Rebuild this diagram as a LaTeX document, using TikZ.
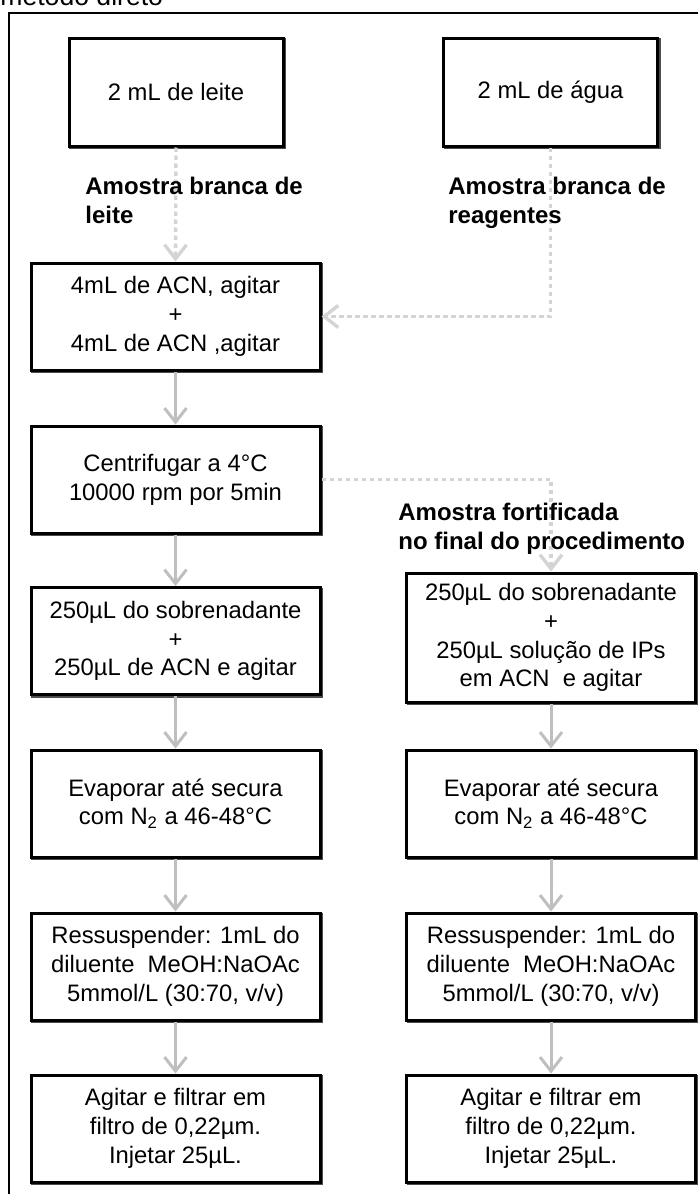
\documentclass[tikz,border=0pt]{standalone}
\usepackage{fontspec}
\setmainfont{Liberation Sans}
\usetikzlibrary{arrows.meta}
\newcommand{\boxfont}{\fontsize{11.9}{14.4}\selectfont}
\begin{document}
\begin{tikzpicture}[x=0.5pt,y=-0.5pt,
  box/.style={draw=black, line width=1.5pt, fill=white, inner sep=0pt, align=center,
    font=\boxfont,
    preaction={draw=black!70, line width=1.5pt, transform canvas={xshift=0.9pt,yshift=-0.9pt}}},
  colbox/.style={box, minimum width=144.5pt, minimum height=53.5pt},
  topbox/.style={box, minimum width=107pt, minimum height=54pt},
  lbl/.style={font=\fontsize{12}{14.5}\selectfont\bfseries, align=left, inner sep=0pt, anchor=north west},
  sarrow/.style={draw=black!25, line width=1.5pt, -{Straight Barb[length=7pt,width=11pt]}},
  darrow/.style={draw=black!17, line width=1.7pt, dash pattern=on 2.2pt off 1.8pt, -{Straight Barb[length=7pt,width=11pt]}}
]
\useasboundingbox (0,0) rectangle (697,1194);
% title and frame
\node[anchor=base west, inner sep=0pt, font=\fontsize{13.3}{15}\selectfont] (title) at (0,5) {método direto};
\draw[line width=1pt] (9,1200) -- (9,13) -- (705,13);

% top boxes
\node[topbox] (leite) at (176,92) {2 mL de leite};
\node[topbox] (agua) at (550.5,92) {2 mL de água};

% left column
\node[colbox] (acn) at (175.5,316.5) {4mL de ACN, agitar\\+\\4mL de ACN ,agitar};
\node[colbox] (cent) at (175.5,479.5) {Centrifugar a 4°C\\10000 rpm por 5min};
\node[colbox] (sobL) at (175.5,641) {250µL do sobrenadante\\+\\250µL de ACN e agitar};
\node[colbox] (evapL) at (175.5,803.5) {Evaporar até secura\\com N\textsubscript{2} a 46-48°C};
\node[colbox] (ressL) at (175.5,966.5) {Ressuspender: 1mL do\\diluente\ \ MeOH:NaOAc\\5mmol/L (30:70, v/v)};
\node[colbox] (filtL) at (175.5,1128.5) {Agitar e filtrar em\\filtro de 0,22µm.\\Injetar 25µL.};

% right column
\node[colbox, minimum height=64.5pt] (sobR) at (551,637.5) {250µL do sobrenadante\\+\\250µL solução de IPs\\em ACN\ \ e agitar};
\node[colbox] (evapR) at (551,803.5) {Evaporar até secura\\com N\textsubscript{2} a 46-48°C};
\node[colbox] (ressR) at (551,966.5) {Ressuspender: 1mL do\\diluente\ \ MeOH:NaOAc\\5mmol/L (30:70, v/v)};
\node[colbox] (filtR) at (551,1128.5) {Agitar e filtrar em\\filtro de 0,22µm.\\Injetar 25µL.};

% dotted connectors
\draw[darrow] (leite.south) -- (acn.north);
\draw[darrow] (agua.south) |- (acn.east);
\draw[darrow] (cent.east) -| (sobR.north);

% labels
\node[lbl] (l1) at (85,177) {Amostra branca de\\leite};
\node[lbl] (l2) at (448,177) {Amostra branca de\\reagentes};
\node[lbl] (l3) at (398,503) {Amostra fortificada\\no final do procedimento};

% solid connectors
\draw[sarrow] (acn.south) -- (cent.north);
\draw[sarrow] (cent.south) -- (sobL.north);
\draw[sarrow] (sobL.south) -- (evapL.north);
\draw[sarrow] (evapL.south) -- (ressL.north);
\draw[sarrow] (ressL.south) -- (filtL.north);
\draw[sarrow] (sobR.south) -- (evapR.north);
\draw[sarrow] (evapR.south) -- (ressR.north);
\draw[sarrow] (ressR.south) -- (filtR.north);
\end{tikzpicture}
\end{document}
